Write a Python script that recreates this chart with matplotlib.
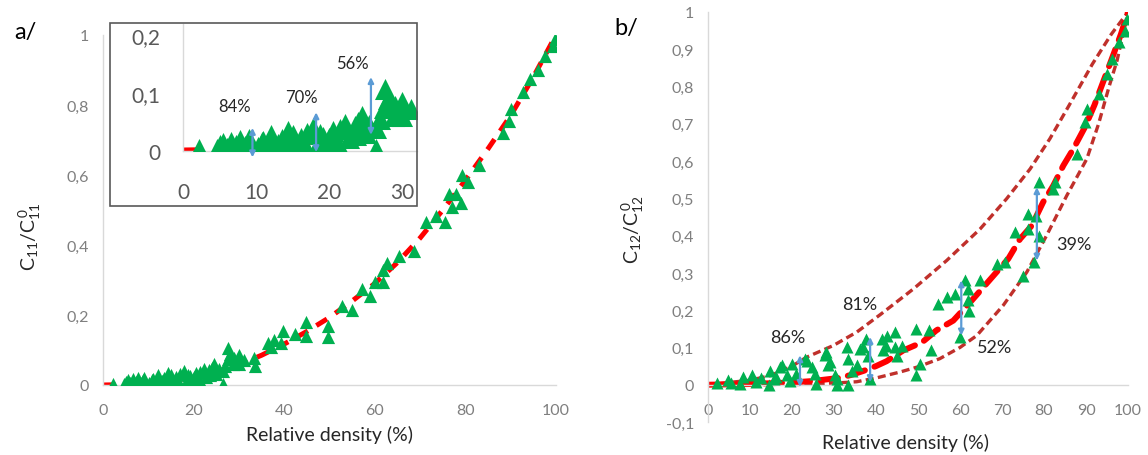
import numpy as np
import matplotlib
matplotlib.use("Agg")
import matplotlib.pyplot as plt
from matplotlib.patches import Rectangle
from matplotlib.ticker import FuncFormatter

plt.rcParams['font.family'] = ['Lato', 'DejaVu Sans']
plt.rcParams['mathtext.default'] = 'regular'

# ---- panel a : C11 / C11^0 -------------------------------------------
a_x = [2.2, 4.6, 5.0, 5.5, 6.0, 6.6, 7.2, 7.8, 8.5, 8.9, 9.0, 9.5, 10.2, 10.8,
       11.0, 11.5, 12.1, 12.3, 13.0, 13.5, 14.4, 14.9, 15.0, 15.5, 16.2, 16.5,
       16.9, 17.8, 18.3, 18.8, 19.2, 19.8, 20.0, 20.5, 21.1, 21.5, 22.2, 22.7,
       23.5, 23.7, 24.0, 24.5, 25.0, 25.5, 26.4, 26.4, 27.0, 27.6, 27.5, 28.0,
       28.3, 28.8, 29.0, 29.5, 30.0, 30.0, 31.2, 33.4, 33.6, 36.4, 37.1, 37.8,
       39.3, 39.7, 42.3, 44.9, 44.9, 49.7, 49.7, 52.7, 54.9, 57.1, 59.0, 60.1,
       61.9, 61.9, 62.7, 65.3, 68.7, 71.2, 73.4, 75.6, 76.4, 77.0, 78.0, 79.0,
       79.3, 80.5, 83.0, 88.2, 89.7, 90.1, 92.7, 94.2, 96.0, 97.5, 99.3, 99.8]
a_y = [0.004, 0.004, 0.010, 0.013, 0.006, 0.016, 0.010, 0.019, 0.008, 0.013,
       0.021, 0.004, 0.007, 0.015, 0.018, 0.004, 0.028, 0.009, 0.012, 0.020,
       0.034, 0.016, 0.028, 0.008, 0.022, 0.012, 0.031, 0.040, 0.009, 0.030,
       0.025, 0.012, 0.022, 0.034, 0.016, 0.038, 0.046, 0.022, 0.043, 0.028,
       0.050, 0.061, 0.031, 0.045, 0.004, 0.040, 0.055, 0.107, 0.075, 0.090,
       0.080, 0.060, 0.078, 0.065, 0.085, 0.060, 0.072, 0.078, 0.055, 0.120,
       0.110, 0.130, 0.120, 0.155, 0.146, 0.180, 0.140, 0.170, 0.136, 0.227,
       0.215, 0.274, 0.255, 0.293, 0.293, 0.330, 0.350, 0.370, 0.384, 0.465,
       0.484, 0.465, 0.546, 0.510, 0.545, 0.520, 0.600, 0.580, 0.630, 0.720,
       0.755, 0.790, 0.836, 0.874, 0.900, 0.940, 0.970, 0.990]

a_fit_x = [0, 5, 10, 15, 20, 25, 30, 35, 40, 45, 50, 55, 60, 65, 70, 75, 80, 85, 90, 95, 100]
a_fit_y = [0, 0.001, 0.005, 0.012, 0.022, 0.038, 0.058, 0.085, 0.117, 0.153, 0.193,
           0.240, 0.290, 0.350, 0.420, 0.500, 0.585, 0.675, 0.770, 0.880, 1.0]

# inset arrows (x, y_low, y_high) and labels
a_arr_x = [9.5, 18.2, 25.7]
a_arr_lo = [-0.011, -0.002, 0.028]
a_arr_hi = [0.040, 0.067, 0.128]
a_lab = ['84%', '70%', '56%']
a_lab_x = [7.1, 16.2, 23.2]
a_lab_y = [0.078, 0.093, 0.152]

# ---- panel b : C12 / C12^0 -------------------------------------------
b_x = [2.1, 4.8, 5.5, 7.7, 8.4, 10.4, 11.5, 12.5, 14.5, 14.8, 15.6, 16.2, 17.1,
       17.5, 18.7, 19.5, 20.1, 21.0, 23.1, 23.5, 24.8, 25.5, 25.6, 27.9, 28.2,
       28.6, 29.1, 30.3, 30.6, 30.8, 33.0, 33.3, 33.4, 34.2, 35.4, 36.2, 36.8,
       37.6, 38.0, 38.6, 41.4, 41.7, 42.3, 42.7, 44.5, 44.9, 44.5, 46.2, 49.6,
       49.6, 50.4, 52.5, 53.0, 54.8, 56.8, 58.8, 60.0, 61.2, 62.0, 62.0, 62.2,
       64.8, 68.7, 70.7, 73.1, 75.1, 76.3, 76.3, 77.5, 78.2, 78.7, 78.7, 82.1,
       82.6, 87.8, 89.7, 90.3, 93.2, 94.9, 96.2, 97.8, 99.2, 99.8]
b_y = [0.005, 0.014, 0.004, 0.003, 0.021, 0.025, 0.008, 0.018, 0.0, 0.038,
       0.016, 0.020, 0.047, 0.052, 0.025, 0.010, 0.056, 0.030, 0.069, 0.065,
       0.047, 0.030, 0.003, 0.079, 0.087, 0.052, 0.060, 0.025, 0.016, 0.0,
       0.101, 0.0, 0.070, 0.038, 0.052, 0.097, 0.100, 0.123, 0.078, 0.016,
       0.123, 0.092, 0.105, 0.132, 0.141, 0.078, 0.102, 0.105, 0.149, 0.025,
       0.056, 0.146, 0.092, 0.217, 0.235, 0.244, 0.128, 0.280, 0.257, 0.226,
       0.197, 0.280, 0.324, 0.329, 0.409, 0.293, 0.458, 0.418, 0.329, 0.454,
       0.400, 0.543, 0.525, 0.543, 0.620, 0.705, 0.740, 0.780, 0.835, 0.875,
       0.920, 0.950, 0.980]

b_mid_x = [0, 10, 20, 25, 31, 34, 37, 40, 42.5, 46.5, 51, 54.4, 58.4, 62.8, 68.7,
           71.5, 74.3, 77.1, 79.8, 82.2, 84.6, 87, 89.7, 92, 94, 96, 98.3, 100]
b_mid_y = [0, 0.002, 0.006, 0.010, 0.018, 0.026, 0.037, 0.050, 0.063, 0.092, 0.114,
           0.146, 0.172, 0.226, 0.302, 0.338, 0.391, 0.427, 0.490, 0.534, 0.588,
           0.633, 0.690, 0.750, 0.810, 0.870, 0.940, 1.0]

b_up_x = [0, 10, 15, 20, 23.5, 29.8, 35.4, 41, 44.9, 48.9, 56.8, 64.8, 71.1, 76.7,
          81.4, 86, 91.5, 96, 100]
b_up_y = [0, 0.012, 0.025, 0.050, 0.074, 0.105, 0.141, 0.188, 0.222, 0.257, 0.333,
          0.418, 0.499, 0.579, 0.660, 0.750, 0.860, 0.940, 1.0]

b_lo_x = [20, 31, 35.4, 40, 45.7, 50, 55.2, 60, 64, 70.3, 75.9, 80.6, 85.4, 90.2,
          93, 95.5, 97.4, 100]
b_lo_y = [0, 0.005, 0.008, 0.018, 0.034, 0.048, 0.070, 0.100, 0.132, 0.213, 0.302,
          0.400, 0.507, 0.606, 0.700, 0.800, 0.870, 1.0]

b_arr_x = [21.9, 38.6, 60.3, 78.3]
b_arr_lo = [-0.006, 0.007, 0.132, 0.333]
b_arr_hi = [0.079, 0.128, 0.280, 0.530]
b_lab = ['86%', '81%', '52%', '39%']
b_lab_x = [19.1, 36.2, 68.3, 87.0]
b_lab_y = [0.128, 0.217, 0.101, 0.378]

GREEN = '#00B050'
RED = '#FF0000'
DRED = '#C0302B'
BLUE = '#5B9BD5'
GRID = '#D9D9D9'
TICK = '#7F7F7F'

W, H = 1148, 456
fig = plt.figure(figsize=(W / 100, H / 100), dpi=100)


def box(x0, y0, x1, y1):
    # pixel box (top-left origin) -> figure fraction
    return [x0 / W, 1 - y1 / H, (x1 - x0) / W, (y1 - y0) / H]


def comma(v, pos):
    s = f'{round(v, 2):g}'.replace('.', ',')
    return '0' if s in ('-0', '0') else s


def style(ax, fs=11.5, xpad=13, ypad=10):
    for s in ['top', 'right']:
        ax.spines[s].set_visible(False)
    for s in ['left', 'bottom']:
        ax.spines[s].set_color(GRID)
        ax.spines[s].set_linewidth(1)
    ax.tick_params(length=0, labelsize=fs, labelcolor=TICK)
    ax.tick_params(axis='x', pad=xpad)
    ax.tick_params(axis='y', pad=ypad)
    ax.xaxis.set_major_formatter(FuncFormatter(comma))
    ax.yaxis.set_major_formatter(FuncFormatter(comma))


# ---------------- panel a ----------------
ax1 = fig.add_axes(box(103, 36, 556, 386))
ax1.plot(a_fit_x, a_fit_y, color=RED, lw=3.6, ls=(0, (2.5, 2.0)), zorder=2)
ax1.scatter(a_x, a_y, marker='^', s=90, color=GREEN, lw=0, zorder=3)
ax1.set_xlim(0, 100)
ax1.set_ylim(0, 1)
ax1.set_xticks(np.arange(0, 101, 20))
ax1.set_yticks(np.arange(0, 1.01, 0.2))
style(ax1)
ax1.set_xlabel('Relative density (%)', fontsize=14, color='#262626', labelpad=6)
fig.text(30 / W, 1 - 237 / H, r'$C_{11}/C_{11}^{\,0}$', rotation=90, fontsize=14,
         ha='center', va='center', color='#262626')
fig.text(25 / W, 1 - 33 / H, 'a/', fontsize=17, ha='center', va='center')

# inset frame + inset axes
fig.patches.append(Rectangle((110 / W, 1 - 207 / H), 307 / W, 183 / H,
                             transform=fig.transFigure, fill=False,
                             edgecolor='#595959', lw=1.2, zorder=5))
ax2 = fig.add_axes(box(183, 25, 417, 152))
ax2.plot(a_fit_x, a_fit_y, color=RED, lw=5, ls=(0, (2.5, 2.0)), zorder=2)
ax2.scatter(a_x, a_y, marker='^', s=230, color=GREEN, lw=0, zorder=3)
ax2.set_xlim(0, 32)
ax2.set_ylim(0, 0.22)
ax2.set_xticks([0, 10, 20, 30])
ax2.set_yticks([0, 0.1, 0.2])
style(ax2, fs=15, xpad=22, ypad=16)
ax2.tick_params(labelcolor='#595959')
ax2.patch.set_alpha(0)
for x, lo, hi in zip(a_arr_x, a_arr_lo, a_arr_hi):
    ax2.annotate('', xy=(x, hi), xytext=(x, lo), annotation_clip=False,
                 arrowprops=dict(arrowstyle='<|-|>', color=BLUE, lw=1.6,
                                 mutation_scale=8, shrinkA=0, shrinkB=0), zorder=4)
for t, x, y in zip(a_lab, a_lab_x, a_lab_y):
    ax2.text(x, y, t, fontsize=12, ha='center', va='center', color='#262626')

# ---------------- panel b ----------------
ax3 = fig.add_axes(box(708, 13, 1128, 423))
ax3.plot(b_up_x, b_up_y, color=DRED, lw=2.4, ls=(0, (2.4, 1.3)), zorder=2)
ax3.plot(b_lo_x, b_lo_y, color=DRED, lw=2.4, ls=(0, (2.4, 1.3)), zorder=2)
ax3.plot(b_mid_x, b_mid_y, color=RED, lw=4.3, ls=(0, (3.0, 1.7)),
         dash_capstyle='round', zorder=2)
ax3.scatter(b_x, b_y, marker='^', s=75, color=GREEN, lw=0, zorder=3)
ax3.set_xlim(0, 100)
ax3.set_ylim(-0.1, 1)
ax3.set_xticks(np.arange(0, 101, 10))
ax3.set_yticks(np.arange(-0.1, 1.01, 0.1))
style(ax3)
ax3.spines['bottom'].set_position(('data', 0))
for x, lo, hi in zip(b_arr_x, b_arr_lo, b_arr_hi):
    ax3.annotate('', xy=(x, hi), xytext=(x, lo),
                 arrowprops=dict(arrowstyle='<|-|>', color=BLUE, lw=1.6,
                                 mutation_scale=8, shrinkA=0, shrinkB=0), zorder=4)
for t, x, y in zip(b_lab, b_lab_x, b_lab_y):
    ax3.text(x, y, t, fontsize=13, ha='center', va='center', color='#262626')
fig.text(905 / W, 1 - 443 / H, 'Relative density (%)', fontsize=14,
         ha='center', va='center', color='#262626')
fig.text(633 / W, 1 - 230 / H, r'$C_{12}/C_{12}^{\,0}$', rotation=90, fontsize=14,
         ha='center', va='center', color='#262626')
fig.text(626 / W, 1 - 28 / H, 'b/', fontsize=17, ha='center', va='center')

fig.savefig('out.png', dpi=100)
